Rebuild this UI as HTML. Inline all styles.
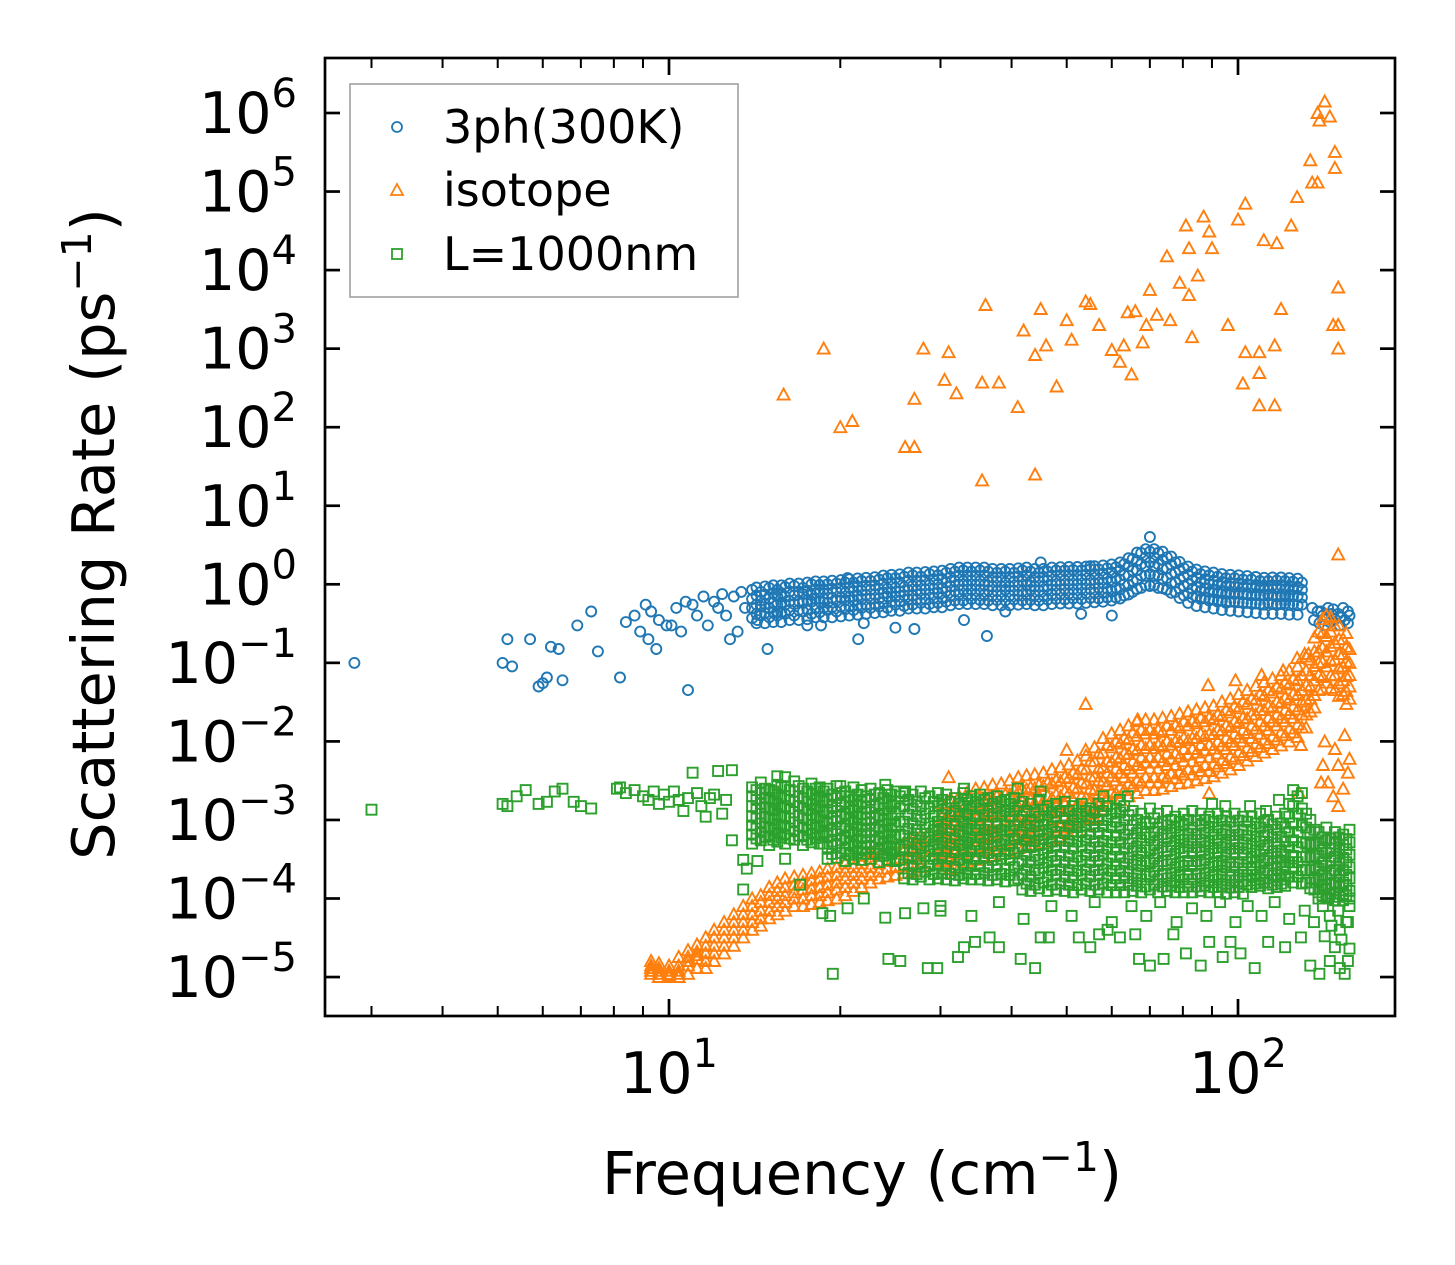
<!DOCTYPE html>
<html><head><meta charset="utf-8"><style>
html,body{margin:0;padding:0;background:#fff;}
svg{display:block;font-family:"DejaVu Sans","Liberation Sans",sans-serif;}
</style></head><body>
<svg id="chart" xmlns="http://www.w3.org/2000/svg" width="1455" height="1265" viewBox="0 0 1455 1265">
<rect x="0" y="0" width="1455" height="1265" fill="#fff"/>
<defs><clipPath id="plotclip"><rect x="325" y="58" width="1070" height="958"/></clipPath></defs>
<g id="marks" clip-path="url(#plotclip)"></g>
<g id="axes"></g>
<g id="legend">
<rect x="350" y="84" width="388" height="213" fill="#fff" fill-opacity="0.85" stroke="#a0a0a0" stroke-width="1.6"/>
<circle cx="397" cy="127" r="5" fill="none" stroke="#1f77b4" stroke-width="1.8"/>
<text x="443" y="143" font-size="46">3ph(300K)</text>
<path d="M397,184 L403,195 L391,195 Z" fill="none" stroke="#ff7f0e" stroke-width="1.8"/>
<text x="443" y="206" font-size="46">isotope</text>
<rect x="392" y="249" width="10" height="10" fill="none" stroke="#2ca02c" stroke-width="1.8"/>
<text x="443" y="270" font-size="46">L=1000nm</text>
</g>
<text x="862" y="1194" font-size="59" text-anchor="middle">Frequency (cm<tspan dy="-23" font-size="41">−1</tspan><tspan dy="23">)</tspan></text>
<text transform="translate(114,534) rotate(-90)" font-size="59" text-anchor="middle">Scattering Rate (ps<tspan dy="-23" font-size="41">−1</tspan><tspan dy="23">)</tspan></text>
</svg>
<script>
// ---- blue: 3ph(300K) ----
const blueSparseF=[2.8,5.1,5.2,5.3,5.7,5.9,6.0,6.1,6.2,6.4,6.5,6.9,7.3,7.5,8.2,8.4,8.7,8.9,9.1,9.2,9.3,9.5,9.6,9.9,10.1,10.3,10.5,10.7,10.8,11.0,11.2,11.5,11.7,12.0,12.2,12.4,12.6,12.8,13.0,13.2,13.4,13.6,14.3,14.9,15.5,17.5,18.5,20.6,21.5,22,25,27,33,36.2,39,45,53,55,60,70];
const blueSparseR=[0.1,0.1,0.2,0.09,0.2,0.05,0.055,0.065,0.16,0.15,0.06,0.3,0.45,0.14,0.065,0.33,0.4,0.25,0.55,0.2,0.45,0.15,0.35,0.3,0.3,0.5,0.25,0.6,0.045,0.55,0.4,0.7,0.3,0.6,0.5,0.75,0.4,0.2,0.7,0.25,0.8,0.5,0.35,0.15,0.45,0.3,0.3,1.2,0.2,0.32,0.28,0.27,0.35,0.22,0.45,1.9,0.42,1.7,0.4,4.0];
const blueBandF=[14,14.5,15,15.5,16,16.6,17.2,17.8,18.4,19,19.7,20.4,21.1,21.8,22.6,23.4,24.2,25,25.9,26.8,27.7,28.7,29.7,30.7,31.8,32.9,34,35.2,36.4,37.7,39,40.4,41.8,43.2,44.7,46.3,47.9,49.6,51.3,53.1,55,56.9,58.9,61,63.1,65.3,67.6,70,72.4,75,77.6,80.3,83.1,86,89,92.1,95.3,98.6,102,105.6,109.3,113,117,121,125,129.5];
const blueBandR1=[0.85,0.8,0.9,0.85,0.92,0.95,0.9,1.0,0.98,1.0,1.02,1.05,1.05,1.1,1.1,1.15,1.2,1.2,1.25,1.3,1.25,1.35,1.3,1.4,1.45,1.5,1.45,1.5,1.45,1.4,1.45,1.4,1.5,1.45,1.4,1.45,1.5,1.5,1.52,1.5,1.55,1.55,1.6,1.65,1.8,2.1,2.5,2.6,2.5,2.2,1.9,1.6,1.45,1.35,1.3,1.25,1.2,1.2,1.15,1.15,1.1,1.1,1.12,1.1,1.08,1.05];
const blueBandR2=[0.65,0.62,0.66,0.7,0.7,0.72,0.75,0.73,0.78,0.76,0.8,0.78,0.82,0.83,0.85,0.87,0.88,0.9,0.92,0.95,0.97,0.98,1.0,1.05,1.1,1.1,1.12,1.1,1.08,1.1,1.05,1.08,1.1,1.07,1.1,1.12,1.1,1.12,1.13,1.15,1.13,1.15,1.18,1.2,1.3,1.5,1.8,1.9,1.8,1.6,1.4,1.25,1.12,1.05,1.0,0.98,0.95,0.93,0.92,0.9,0.9,0.88,0.88,0.87,0.86,0.85];
const blueBandR3=[0.5,0.52,0.5,0.55,0.55,0.56,0.58,0.6,0.6,0.58,0.62,0.63,0.63,0.65,0.66,0.66,0.7,0.7,0.72,0.72,0.75,0.75,0.78,0.82,0.82,0.85,0.85,0.85,0.84,0.82,0.85,0.83,0.82,0.85,0.83,0.86,0.85,0.87,0.86,0.88,0.87,0.9,0.88,0.9,1.0,1.1,1.3,1.35,1.3,1.2,1.05,0.95,0.88,0.82,0.8,0.78,0.76,0.75,0.74,0.72,0.72,0.72,0.7,0.7,0.7,0.68];
const blueBandR4=[0.37,0.4,0.38,0.4,0.42,0.4,0.45,0.42,0.44,0.47,0.45,0.48,0.47,0.5,0.5,0.52,0.5,0.55,0.53,0.55,0.58,0.56,0.58,0.6,0.62,0.62,0.65,0.63,0.62,0.63,0.62,0.64,0.62,0.63,0.62,0.64,0.65,0.64,0.66,0.65,0.67,0.66,0.68,0.68,0.72,0.8,0.9,0.95,0.9,0.85,0.8,0.72,0.68,0.65,0.62,0.6,0.58,0.6,0.58,0.57,0.56,0.58,0.56,0.57,0.56,0.55];
const blueBand2F=[14.25,14.75,15.25,15.75,16.3,16.9,17.5,18.1,18.7,19.35,20.05,20.75,21.45,22.2,23,23.8,24.6,25.45,26.35,27.25,28.2,29.2,30.2,31.25,32.35,33.45,34.6,35.8,37.05,38.35,39.7,41.1,42.5,43.95,45.5,47.1,48.75,50.45,52.2,54.05,55.95,57.9,59.95,62.05,64.2,66.45,68.8,71.2,73.7,76.3,78.95,81.7,84.55,87.5,90.55,93.7,96.95,100.3,103.8,107.45,111.15,115,119,123,127.25];
const blueBand2R1=[0.91,0.94,0.97,0.97,1.02,1.02,1.05,1.09,1.09,1.11,1.13,1.16,1.19,1.21,1.23,1.29,1.32,1.34,1.41,1.41,1.43,1.46,1.49,1.57,1.63,1.63,1.63,1.63,1.57,1.57,1.57,1.6,1.63,1.57,1.57,1.63,1.65,1.66,1.66,1.68,1.7,1.74,1.79,1.9,2.15,2.53,2.8,2.8,2.6,2.25,1.93,1.68,1.54,1.46,1.41,1.35,1.32,1.3,1.27,1.24,1.21,1.22,1.22,1.2,1.18];
const blueBand2R2=[0.72,0.74,0.77,0.77,0.81,0.81,0.83,0.86,0.86,0.88,0.9,0.91,0.94,0.96,0.97,1.02,1.04,1.06,1.11,1.11,1.13,1.16,1.17,1.24,1.29,1.29,1.29,1.29,1.24,1.24,1.24,1.26,1.29,1.24,1.24,1.29,1.31,1.31,1.31,1.33,1.35,1.37,1.42,1.5,1.7,2.0,2.2,2.2,2.05,1.78,1.52,1.33,1.22,1.16,1.11,1.07,1.04,1.03,1.0,0.98,0.96,0.97,0.97,0.95,0.93];
const blueBand2R3=[0.55,0.56,0.58,0.58,0.61,0.61,0.63,0.65,0.65,0.67,0.68,0.69,0.71,0.73,0.74,0.77,0.79,0.81,0.84,0.84,0.86,0.88,0.89,0.94,0.98,0.98,0.98,0.98,0.94,0.94,0.94,0.96,0.98,0.94,0.94,0.98,0.99,1.0,1.0,1.01,1.02,1.04,1.08,1.14,1.29,1.52,1.68,1.68,1.55,1.35,1.16,1.01,0.92,0.88,0.84,0.81,0.79,0.78,0.76,0.75,0.73,0.73,0.73,0.72,0.71];
const blueBand2R4=[0.42,0.43,0.44,0.44,0.47,0.47,0.48,0.5,0.5,0.51,0.52,0.53,0.54,0.55,0.56,0.59,0.6,0.61,0.64,0.64,0.65,0.67,0.68,0.72,0.74,0.74,0.74,0.74,0.72,0.72,0.72,0.73,0.74,0.72,0.72,0.74,0.75,0.76,0.76,0.77,0.78,0.79,0.82,0.87,0.98,1.15,1.28,1.28,1.18,1.03,0.88,0.77,0.7,0.67,0.64,0.62,0.6,0.59,0.58,0.57,0.55,0.56,0.56,0.55,0.54];
const blueBand2R5=[0.32,0.32,0.33,0.33,0.35,0.35,0.36,0.38,0.38,0.38,0.39,0.4,0.41,0.42,0.43,0.44,0.46,0.46,0.49,0.49,0.49,0.51,0.51,0.54,0.56,0.56,0.56,0.56,0.54,0.54,0.54,0.55,0.56,0.54,0.54,0.56,0.57,0.57,0.57,0.58,0.59,0.6,0.62,0.66,0.74,0.87,0.97,0.97,0.89,0.78,0.67,0.58,0.53,0.51,0.49,0.47,0.46,0.45,0.44,0.43,0.42,0.42,0.42,0.41,0.41];
const blueTailF=[135,138,141,144,147,150,153,156,157,136,139,142,145,148,151,154,156,140,146,152];
const blueTailR=[0.5,0.45,0.4,0.5,0.48,0.42,0.5,0.45,0.4,0.35,0.32,0.3,0.33,0.36,0.3,0.35,0.32,0.45,0.42,0.38];

// ---- orange: isotope ----
const orangeSparseF=[15.9,18.7,20,21,26,27,27,28,30.5,31,32,35.5,35.5,36,38,41,42,44,44,45,46,48,50,51,54,55,57,60,62,63,64,65,66,68,69,70,72,75,76,79,81,82,82,83,85,87,89,90,96,100,103,102,103,109,109,109,111,116,116,117,119,124,127,134,135,138,138,139,142,145,148,148,150,150,147,150,150,54,66.6,50,54,31,88.6,99,110,120,127,133,89,128,140,150,157,129,131,141,144,147,150,153,156,142,148,154];
const orangeSparseR=[260,1000,100,120,56,56,230,1000,400,900,270,21,370,3600,370,180,1700,25,830,3200,1100,330,2300,1300,4000,3700,2000,960,680,1100,2900,470,3000,1200,2000,5600,2700,15000,2300,6900,37000,4800,19000,1400,8500,48000,31000,19000,2000,44000,70000,360,900,900,490,190,24000,190,1100,22000,3200,37000,85000,250000,130000,130000,1000000,800000,1400000,900000,320000,200000,6000,2000,2000,1000,2.4,0.03,0.019,0.0078,0.0078,0.0035,0.052,0.06,0.07,0.08,0.115,0.13,0.0022,0.0022,0.003,0.005,0.006,0.009,0.13,0.005,0.003,0.002,0.0015,0.0025,0.004,0.01,0.008,0.012];
const orangeBandF=[9.3,9.6,10,10.4,10.8,11.2,11.6,12,12.5,13,13.5,14,14.5,15,15.5,16,16.6,17.2,17.8,18.4,19,19.7,20.4,21.1,21.8,22.6,23.4,24.2,25,25.9,26.8,27.7,28.7,29.7,30.7,31.8,32.9,34,35.2,36.4,37.7,39,40.4,41.8,43.2,44.7,46.3,47.9,49.6,51.3,53.1,55,56.9,58.9,61,63.1,65.3,67.6,70,72.4,75,77.6,80.3,83.1,86,89,92.1,95.3,98.6,102,105.6,109.3,113,117,121,125,129.5,134,138.5,143,148,153,157];
const orangeBandR1=[1.6e-5,1.5e-5,1.4e-5,1.8e-5,2.2e-5,2.6e-5,3.2e-5,4e-5,5e-5,6.3e-5,8e-5,1e-4,1.1e-4,1.4e-4,1.6e-4,1.8e-4,1.9e-4,2e-4,2.1e-4,2.2e-4,2.4e-4,2.5e-4,2.8e-4,3.2e-4,3.5e-4,4e-4,4.5e-4,4.8e-4,5e-4,5.2e-4,5.6e-4,6.3e-4,7e-4,8e-4,1.1e-3,1.3e-3,1.4e-3,1.6e-3,1.7e-3,1.8e-3,2e-3,2.1e-3,2.4e-3,2.5e-3,2.6e-3,2.8e-3,3e-3,3.2e-3,3.5e-3,4e-3,4.5e-3,5.6e-3,7e-3,9e-3,1e-2,1.1e-2,1.3e-2,1.4e-2,1.4e-2,1.4e-2,1.6e-2,1.6e-2,1.8e-2,1.8e-2,2e-2,2e-2,2.2e-2,2.5e-2,2.8e-2,3.2e-2,3.5e-2,4e-2,4.5e-2,5e-2,5.6e-2,6.3e-2,7e-2,1.1e-1,2.5e-1,4e-1,3e-1,2e-1,1.5e-1];
const orangeBandR2=[1.3e-5,1.2e-5,1.2e-5,1.4e-5,1.8e-5,2.1e-5,2.5e-5,3.2e-5,4e-5,5e-5,6.3e-5,8e-5,9e-5,1.1e-4,1.25e-4,1.4e-4,1.5e-4,1.6e-4,1.7e-4,1.8e-4,1.9e-4,2e-4,2.2e-4,2.5e-4,2.8e-4,3.2e-4,3.5e-4,3.8e-4,4e-4,4.2e-4,4.5e-4,5e-4,5.6e-4,6.3e-4,8e-4,9e-4,1e-3,1.1e-3,1.2e-3,1.25e-3,1.3e-3,1.4e-3,1.6e-3,1.7e-3,1.8e-3,1.9e-3,2e-3,2.1e-3,2.3e-3,2.6e-3,3e-3,3.6e-3,4.5e-3,5.6e-3,6.3e-3,7e-3,8e-3,9e-3,9e-3,9e-3,1e-2,1e-2,1.1e-2,1.1e-2,1.25e-2,1.25e-2,1.4e-2,1.6e-2,1.8e-2,2e-2,2.2e-2,2.5e-2,2.8e-2,3.2e-2,3.6e-2,4e-2,4.5e-2,7e-2,1.4e-1,2.2e-1,1.8e-1,1.3e-1,1e-1];
const orangeBandR3=[1.1e-5,1.0e-5,1.0e-5,1.1e-5,1.4e-5,1.7e-5,2.0e-5,2.5e-5,3.2e-5,4e-5,5e-5,6.3e-5,7e-5,9e-5,1e-4,1.1e-4,1.2e-4,1.3e-4,1.35e-4,1.4e-4,1.5e-4,1.6e-4,1.8e-4,2e-4,2.2e-4,2.5e-4,2.8e-4,3e-4,3.2e-4,3.3e-4,3.5e-4,4e-4,4.5e-4,5e-4,6e-4,6.5e-4,7e-4,8e-4,8.5e-4,9e-4,9.5e-4,1e-3,1.1e-3,1.2e-3,1.25e-3,1.3e-3,1.4e-3,1.5e-3,1.6e-3,1.8e-3,2e-3,2.5e-3,3.2e-3,4e-3,4.5e-3,5e-3,5.6e-3,6.3e-3,6.3e-3,6.3e-3,7e-3,7e-3,8e-3,8e-3,9e-3,9e-3,1e-2,1.1e-2,1.25e-2,1.4e-2,1.6e-2,1.8e-2,2e-2,2.2e-2,2.5e-2,2.8e-2,3.2e-2,5e-2,1e-1,1.4e-1,1.1e-1,9e-2,7e-2];
const orangeBandR4=[1.2e-5,1.1e-5,1.05e-5,1.0e-5,1.1e-5,1.3e-5,1.6e-5,2e-5,2.5e-5,3.2e-5,4e-5,5e-5,5.6e-5,7e-5,8e-5,9e-5,1e-4,1e-4,1.1e-4,1.1e-4,1.2e-4,1.3e-4,1.4e-4,1.6e-4,1.8e-4,2e-4,2.2e-4,2.4e-4,2.5e-4,2.6e-4,2.8e-4,3.2e-4,3.5e-4,4e-4,4.5e-4,5e-4,5.5e-4,6e-4,6.3e-4,6.5e-4,7e-4,7.5e-4,8e-4,8.5e-4,9e-4,9.5e-4,1e-3,1.05e-3,1.1e-3,1.2e-3,1.4e-3,1.7e-3,2.2e-3,2.8e-3,3.2e-3,3.5e-3,4e-3,4.5e-3,4.5e-3,4.5e-3,5e-3,5e-3,5.6e-3,5.6e-3,6.3e-3,6.3e-3,7e-3,8e-3,9e-3,1e-2,1.1e-2,1.25e-2,1.4e-2,1.6e-2,1.8e-2,2e-2,2.2e-2,3.5e-2,7e-2,9e-2,7e-2,6e-2,5e-2];
const orangeBandR5=[1.4e-5,1.3e-5,1.1e-5,1.2e-5,1.6e-5,1.9e-5,1.3e-5,1.6e-5,2e-5,2.5e-5,3.2e-5,4e-5,4.5e-5,5.6e-5,6.3e-5,7e-5,8e-5,8e-5,8.5e-5,9e-5,9.5e-5,1e-4,1.1e-4,1.25e-4,1.4e-4,1.6e-4,1.8e-4,1.9e-4,2e-4,2.1e-4,2.2e-4,2.5e-4,2.8e-4,3.2e-4,3.5e-4,3.8e-4,4e-4,4.5e-4,4.7e-4,5e-4,5.2e-4,5.5e-4,6e-4,6.3e-4,6.5e-4,7e-4,7.5e-4,8e-4,8e-4,9e-4,1e-3,1.2e-3,1.5e-3,1.9e-3,2.2e-3,2.4e-3,2.7e-3,3e-3,3e-3,3e-3,3.4e-3,3.4e-3,3.8e-3,3.8e-3,4.2e-3,4.2e-3,4.8e-3,5.3e-3,6e-3,6.7e-3,7.5e-3,8.5e-3,9.5e-3,1.05e-2,1.2e-2,1.3e-2,1.5e-2,2.4e-2,4.5e-2,5.6e-2,4.5e-2,4e-2,3.5e-2];
const orangeBand2F=[30.2,31.25,32.35,33.45,34.6,35.8,37.05,38.35,39.7,41.1,42.5,43.95,45.5,47.1,48.75,50.45,52.2,54.05,55.95,57.9,59.95,62.05,64.2,66.45,68.8,71.2,73.7,76.3,78.95,81.7,84.55,87.5,90.55,93.7,96.95,100.3,103.8,107.45,111.15,115,119,123,127.25,131.75,136.25,140.75,145.5,150.5,155];
const orangeBand2R1=[1.65e-3,1.86e-3,2e-3,2.25e-3,2.5e-3,2.6e-3,2.8e-3,2.9e-3,3.2e-3,3.5e-3,3.7e-3,3.8e-3,4e-3,4.4e-3,4.7e-3,5.1e-3,5.7e-3,6.6e-3,8.4e-3,1.1e-2,1.26e-2,1.4e-2,1.6e-2,1.8e-2,1.9e-2,1.9e-2,2e-2,2.1e-2,2.25e-2,2.4e-2,2.55e-2,2.7e-2,2.85e-2,3.2e-2,3.5e-2,4e-2,4.5e-2,5.1e-2,5.7e-2,6.3e-2,7e-2,8e-2,9e-2,1.2e-1,2.1e-1,3.6e-1,3.8e-1,3e-1,2.4e-1];
const orangeBand2R2=[1.1e-3,1.24e-3,1.34e-3,1.5e-3,1.64e-3,1.74e-3,1.84e-3,1.94e-3,2.1e-3,2.3e-3,2.44e-3,2.54e-3,2.7e-3,2.9e-3,3.1e-3,3.4e-3,3.8e-3,4.4e-3,5.6e-3,7.2e-3,8.4e-3,9.4e-3,1.06e-2,1.18e-2,1.26e-2,1.26e-2,1.32e-2,1.4e-2,1.5e-2,1.6e-2,1.7e-2,1.8e-2,1.9e-2,2.1e-2,2.34e-2,2.64e-2,3e-2,3.4e-2,3.8e-2,4.2e-2,4.7e-2,5.3e-2,6e-2,8e-2,1.4e-1,2.4e-1,2.5e-1,2e-1,1.6e-1];
const orangeBand2R3=[7.2e-4,8.1e-4,8.7e-4,9.8e-4,1.07e-3,1.13e-3,1.2e-3,1.26e-3,1.37e-3,1.5e-3,1.59e-3,1.65e-3,1.76e-3,1.89e-3,2e-3,2.2e-3,2.5e-3,2.9e-3,3.6e-3,4.7e-3,5.5e-3,6.1e-3,6.9e-3,7.7e-3,8.2e-3,8.2e-3,8.6e-3,9.1e-3,9.8e-3,1.04e-2,1.1e-2,1.17e-2,1.24e-2,1.37e-2,1.52e-2,1.72e-2,1.95e-2,2.2e-2,2.5e-2,2.7e-2,3.1e-2,3.4e-2,3.9e-2,5.2e-2,9.1e-2,1.56e-1,1.63e-1,1.3e-1,1.04e-1];
const orangeBand2R4=[4.7e-4,5.3e-4,5.7e-4,6.4e-4,7e-4,7.4e-4,7.8e-4,8.2e-4,8.9e-4,9.8e-4,1.04e-3,1.08e-3,1.15e-3,1.23e-3,1.32e-3,1.45e-3,1.6e-3,1.9e-3,2.4e-3,3.1e-3,3.6e-3,4e-3,4.5e-3,5e-3,5.4e-3,5.4e-3,5.6e-3,6e-3,6.4e-3,6.8e-3,7.2e-3,7.7e-3,8.1e-3,8.9e-3,9.9e-3,1.12e-2,1.28e-2,1.45e-2,1.6e-2,1.8e-2,2e-2,2.25e-2,2.55e-2,3.4e-2,6e-2,1.02e-1,1.06e-1,8.5e-2,6.8e-2];
const orangeBand2R5=[3e-4,3.4e-4,3.7e-4,4.1e-4,4.5e-4,4.8e-4,5.1e-4,5.3e-4,5.8e-4,6.3e-4,6.7e-4,7e-4,7.4e-4,8e-4,8.5e-4,9.4e-4,1.05e-3,1.2e-3,1.54e-3,2e-3,2.3e-3,2.6e-3,2.9e-3,3.2e-3,3.5e-3,3.5e-3,3.6e-3,3.9e-3,4.1e-3,4.4e-3,4.7e-3,5e-3,5.2e-3,5.8e-3,6.4e-3,7.3e-3,8.3e-3,9.4e-3,1.05e-2,1.16e-2,1.3e-2,1.46e-2,1.65e-2,2.2e-2,3.9e-2,6.6e-2,6.9e-2,5.5e-2,4.4e-2];
const orangeBand2R6=[2.1e-4,2.4e-4,2.5e-4,2.9e-4,3.1e-4,3.3e-4,3.5e-4,3.7e-4,4e-4,4.4e-4,4.6e-4,4.8e-4,5.1e-4,5.5e-4,5.9e-4,6.5e-4,7.2e-4,8.4e-4,1.06e-3,1.37e-3,1.6e-3,1.8e-3,2e-3,2.2e-3,2.4e-3,2.4e-3,2.5e-3,2.7e-3,2.9e-3,3e-3,3.2e-3,3.4e-3,3.6e-3,4e-3,4.4e-3,5e-3,5.7e-3,6.5e-3,7.2e-3,8e-3,8.9e-3,1e-2,1.14e-2,1.5e-2,2.7e-2,4.6e-2,4.8e-2,3.8e-2,3e-2];

// ---- green: L=1000nm (values in units of 1e-4 ps^-1) ----
const greenUnit=1e-4;
const greenSparseF=[3.0,5.1,5.2,5.4,5.6,5.9,6.1,6.3,6.5,6.8,7.0,7.3,8.1,8.2,8.4,8.7,9.0,9.2,9.4,9.6,9.8,10.0,10.2,10.4,10.6,10.8,11.0,11.2,11.4,11.6,11.8,12.0,12.2,12.4,12.6,12.9,12.9,13.5,13.7,14.3,13.5,17,16,15.5,19.4,25.5,29.6,24,26,28,30,18.6,19.2,20.6,22,16,20,24,26,33,41,45,58,62,64,90,95,105,118,112];
const greenSparseR=[13.5,16,15,20,24,16,17,23,25,17,15,14,25,26,22,24,20,18,23,16,21,17,23,18,13,19,40,22,15,11,19,21,42,12,18,43,5.5,3.1,2.4,3,1.3,1.5,3.2,36,0.11,0.16,0.13,0.57,0.65,0.75,0.8,0.65,0.6,0.75,1.0,35,27,28,23,25,25,23,20,18,20,16,15,15,18,13];
const greenLowF=[24.3,28.5,32.2,33,34.5,36.6,38,41.5,44,45,46.5,52.5,55,57,59,62,66,67,70,74,77,81,86,89,94,97,101,107,113,121,129,134,139,145,151,154,156,157,148,142,151,156,145,30,34,38,42,47,51,56,60,65,69,73,78,83,88,93,99,104,110,116,123,131,136,141,146,150,155,157,152,144];
const greenLowR=[0.17,0.13,0.18,0.24,0.28,0.32,0.24,0.17,0.13,0.32,0.32,0.32,0.24,0.35,0.4,0.32,0.35,0.17,0.14,0.17,0.35,0.2,0.14,0.28,0.18,0.28,0.2,0.13,0.28,0.24,0.32,0.14,0.11,0.16,0.13,0.11,0.16,0.23,0.24,0.33,0.4,0.5,0.6,0.7,0.6,0.9,0.55,0.8,0.6,0.9,0.5,0.8,0.6,0.9,0.5,0.75,0.6,0.9,0.5,0.8,0.6,0.9,0.55,0.7,0.5,0.8,0.45,0.7,0.5,0.8,0.3,1.0];
const greenBandF=[14,14.5,15,15.5,16,16.6,17.2,17.8,18.4,19,19.7,20.4,21.1,21.8,22.6,23.4,24.2,25,25.9,26.8,27.7,28.7,29.7,30.7,31.8,32.9,34,35.2,36.4,37.7,39,40.4,41.8,43.2,44.7,46.3,47.9,49.6,51.3,53.1,55,56.9,58.9,61,63.1,65.3,67.6,70,72.4,75,77.6,80.3,83.1,86,89,92.1,95.3,98.6,102,105.6,109.3,113,117,121,125,129.5,134,138.5,143,148,153,157];
const greenBandR1=[26,30,24,28,27,31,25,29,26,25,27,23,26,24,25,22,24,23,22,21,23,20,22,21,19,22,20,21,19,20,18,19,17,16,18,15,16,17,15,16,14,16,15,14,15,13,12,14,12,13,11,12,13,12,11,12,11,12,11,11,12,10,11,12,24,22,10,7,8,7,6.5,7.5];
const greenBandR2=[20,22,19,21,20,23,19,21,20,18,19,17,18,17,18,16,17,17,15,14,15,14,15,14,13,15,14,14,13,14,13,13,11,10,11,10,11,10.5,10,11,10,10,10,9.5,10,8.5,8,9,8,8.5,8,8.5,8,8.5,8,8,7.5,8,7.5,7.5,8,7,7.5,8,15,14,7,5,5.5,5,4.8,5.2];
const greenBandR3=[15,16,14,16,15,17,14,16,15,12.5,13,12,13,12,12.5,11.5,12,12,9.5,9,10,9,9.5,9,8.8,9.5,9,9,8.5,9,8.5,8.5,7,6.8,7.2,6.6,7,6.8,6.5,7,6.6,6.8,6.5,6.3,6.5,5.8,5.5,6,5.5,5.8,5.4,5.6,5.5,5.6,5.4,5.5,5.2,5.4,5.2,5,5.3,4.8,5,5.3,9,8.5,4.8,3.5,3.8,3.4,3.3,3.6];
const greenBandR4=[11,12,10.5,11.5,11,12.5,10.5,11.5,11,9,9.5,8.5,9.2,8.8,9,8.3,8.8,8.6,6.3,6,6.6,6,6.3,6,5.8,6.3,6,6,5.7,6,5.6,5.7,4.6,4.5,4.8,4.4,4.6,4.5,4.3,4.6,4.4,4.5,4.3,4.2,4.3,4,3.8,4.1,3.8,4,3.7,3.9,3.8,3.9,3.7,3.8,3.6,3.7,3.6,3.4,3.6,3.3,3.4,3.6,5.5,5.2,3.3,2.4,2.6,2.3,2.3,2.5];
const greenBandR5=[8.5,9,8,8.8,8.4,9.3,8,8.7,8.3,6.3,6.6,6,6.5,6.2,6.3,5.9,6.2,6.1,4.2,4,4.4,4,4.2,4,3.9,4.2,4,4,3.8,4,3.7,3.8,3,2.9,3.1,2.9,3,2.9,2.8,3,2.9,3,2.8,2.7,2.8,2.7,2.6,2.8,2.6,2.7,2.5,2.6,2.6,2.7,2.5,2.6,2.5,2.5,2.4,2.4,2.5,2.3,2.4,2.5,3.5,3.4,2.3,1.7,1.8,1.6,1.6,1.8];
const greenBandR6=[6.5,7,6.2,6.8,6.5,7.2,6.2,6.7,6.4,4.5,4.7,4.3,4.6,4.4,4.5,4.2,4.4,4.3,2.7,2.6,2.8,2.6,2.7,2.6,2.5,2.7,2.6,2.6,2.5,2.6,2.4,2.5,2,1.9,2.1,1.9,2,1.9,1.85,2,1.9,2,1.85,1.8,1.85,1.8,1.75,1.9,1.75,1.8,1.7,1.75,1.75,1.8,1.7,1.75,1.7,1.7,1.65,1.7,1.75,1.6,1.7,1.75,2.4,2.3,1.6,1.2,1.3,1.15,1.15,1.25];
const greenBandR7=[5,5.5,4.8,5.3,5,5.6,4.8,5.2,5,3.2,3.3,3,3.2,3.1,3.2,2.9,3.1,3,1.8,1.75,1.9,1.75,1.8,1.75,1.7,1.8,1.75,1.75,1.7,1.75,1.65,1.7,1.3,1.25,1.35,1.25,1.3,1.25,1.2,1.3,1.25,1.3,1.2,1.2,1.2,1.25,1.2,1.3,1.2,1.25,1.2,1.2,1.2,1.25,1.2,1.2,1.15,1.2,1.15,1.4,1.45,1.35,1.4,1.45,1.6,1.55,1.35,1.0,1.05,0.95,0.95,1.0];
const greenBand2F=[14.25,14.75,15.25,15.75,16.3,16.9,17.5,18.1,18.7,19.35,20.05,20.75,21.45,22.2,23,23.8,24.6,25.45,26.35,27.25,28.2,29.2,30.2,31.25,32.35,33.45,34.6,35.8,37.05,38.35,39.7,41.1,42.5,43.95,45.5,47.1,48.75,50.45,52.2,54.05,55.95,57.9,59.95,62.05,64.2,66.45,68.8,71.2,73.7,76.3,78.95,81.7,84.55,87.5,90.55,93.7,96.95,100.3,103.8,107.45,111.15,115,119,123,127.25,131.75,136.25,140.75,145.5,150.5,155];
const greenBand2R1=[24,25,23,26,24,27,23,25,23,21,22,20,21,20,21,19,21,20,18,17,19,17,18,17,16,18,17,18,16,17,16,15,13,12.5,13.5,12.5,13,13,12,13,12.5,13,12,12.5,11.5,10,9.5,10.5,9.5,10,9.5,10,9.8,10,9.5,9.8,9.5,9.8,9.5,9,9.5,8.8,9,16,20,12,7.5,6,5.8,6,5.7];
const greenBand2R2=[18,19,17,19,18,20,17,18,17,15,15.5,14.5,15,14.5,15,14,15,14,11.7,11.2,12,11.2,11.7,11.2,11,11.7,11.2,11.5,11,11.3,11,10,8.5,8.3,8.7,8.2,8.5,8.4,8.1,8.5,8.2,8.4,8.1,8,7.5,6.8,6.6,7,6.6,6.8,6.5,6.7,6.6,6.8,6.5,6.6,6.4,6.5,6.3,6.1,6.3,6,6.1,11,12,8,5,4.2,4.3,4.1,4.2];
const greenBand2R3=[14,14.5,13.5,14.5,14,15,13.5,14,13,10.6,11,10.3,10.8,10.4,10.6,10,10.5,9.5,7.7,7.4,8,7.4,7.7,7.4,7.2,7.7,7.4,7.5,7.1,7.4,7.1,6.5,5.5,5.4,5.7,5.3,5.5,5.4,5.3,5.5,5.3,5.4,5.2,5.2,5,4.6,4.5,4.8,4.5,4.6,4.4,4.6,4.5,4.6,4.4,4.5,4.3,4.4,4.3,4.1,4.3,4,4.1,7,7,5,3.5,2.9,3,2.8,2.9];
const greenBand2R4=[10.4,11,10,10.8,10.4,11.5,10,10.6,9.8,7.5,7.8,7.2,7.6,7.4,7.5,7.1,7.4,6.5,5.1,4.9,5.3,4.9,5.1,4.9,4.8,5.1,4.9,5,4.7,4.9,4.7,4.3,3.6,3.5,3.7,3.5,3.6,3.5,3.4,3.6,3.5,3.6,3.4,3.4,3.3,3.1,3,3.2,3,3.1,2.9,3,3,3.1,2.9,3,2.9,2.9,2.9,2.9,3,2.8,2.9,4.5,4.5,3.4,2.5,2,2.1,1.95,2];
const greenBand2R5=[7.8,8.2,7.5,8,7.8,8.5,7.5,7.9,7,5.3,5.5,5.1,5.4,5.2,5.3,5,5.2,4.5,3.3,3.2,3.5,3.2,3.3,3.2,3.1,3.3,3.2,3.3,3.1,3.2,3.1,2.8,2.35,2.3,2.45,2.3,2.35,2.3,2.25,2.35,2.3,2.35,2.25,2.25,2.2,2.1,2.05,2.2,2.05,2.1,2,2.05,2.05,2.1,2,2.05,2,2,2,2,2.1,1.95,2,2.9,2.9,2.3,1.8,1.45,1.5,1.4,1.45];
const greenBand2R6=[5.8,6.1,5.6,6,5.8,6.3,5.6,5.9,5,3.7,3.8,3.6,3.8,3.7,3.7,3.5,3.7,3.1,2.1,2.05,2.2,2.05,2.1,2.05,2,2.1,2.05,2.1,2,2.05,2,1.8,1.55,1.5,1.6,1.5,1.55,1.5,1.48,1.55,1.5,1.55,1.48,1.48,1.5,1.45,1.42,1.5,1.42,1.45,1.4,1.42,1.42,1.45,1.4,1.42,1.38,1.4,1.5,1.55,1.6,1.5,1.55,1.9,1.9,1.6,1.3,1.1,1.15,1.05,1.1];

// ---- axis ticks ----
const yTickExps=[-5,-4,-3,-2,-1,0,1,2,3,4,5,6];
const xTickExps=[1,2];
const xMinorTicks=[3,4,5,6,7,8,9,20,30,40,50,60,70,80,90,101,102,103,104,105,106,107,108,109];

const NS='http://www.w3.org/2000/svg';
const X0=325,X1=1395,Y0=58,Y1=1016;
function xs(f){return 669+569*(Math.log10(f)-1);}
function ys(r){return 113+78.55*(6-Math.log10(r));}
const marks=document.getElementById('marks');
const axes=document.getElementById('axes');
function mk(tag,attrs,parent){const e=document.createElementNS(NS,tag);for(const k in attrs)e.setAttribute(k,attrs[k]);parent.appendChild(e);return e;}

function circle(f,r,g){const e=mk('circle',{cx:xs(f).toFixed(1),cy:ys(r).toFixed(1),r:5,fill:'none',stroke:'#1f77b4','stroke-width':1.9},g);

}
function tri(f,r,g){const x=xs(f),y=ys(r);const e=mk('path',{d:`M${x.toFixed(1)},${(y-6).toFixed(1)}L${(x+6).toFixed(1)},${(y+5).toFixed(1)}L${(x-6).toFixed(1)},${(y+5).toFixed(1)}Z`,fill:'none',stroke:'#ff7f0e','stroke-width':1.9},g);

}
function sq(f,r,g){const e=mk('rect',{x:(xs(f)-5).toFixed(1),y:(ys(r)-5).toFixed(1),width:10,height:10,fill:'none',stroke:'#2ca02c','stroke-width':1.9},g);

}

const gB=mk('g',{},marks);


blueSparseF.forEach((f,i)=>circle(f,blueSparseR[i],gB));
[blueBandR1,blueBandR2,blueBandR3,blueBandR4].forEach(row=>blueBandF.forEach((f,i)=>circle(f,row[i],gB)));
[blueBand2R1,blueBand2R2,blueBand2R3,blueBand2R4,blueBand2R5].forEach(row=>blueBand2F.forEach((f,i)=>circle(f,row[i],gB)));
blueTailF.forEach((f,i)=>circle(f,blueTailR[i],gB));

const gO=mk('g',{},marks);


[orangeBandR1,orangeBandR2,orangeBandR3,orangeBandR4,orangeBandR5].forEach(row=>orangeBandF.forEach((f,i)=>tri(f,row[i],gO)));
[orangeBand2R1,orangeBand2R2,orangeBand2R3,orangeBand2R4,orangeBand2R5,orangeBand2R6].forEach(row=>orangeBand2F.forEach((f,i)=>tri(f,row[i],gO)));
orangeSparseF.forEach((f,i)=>tri(f,orangeSparseR[i],gO));

const gG=mk('g',{},marks);


greenSparseF.forEach((f,i)=>sq(f,greenSparseR[i]*greenUnit,gG));
greenLowF.forEach((f,i)=>sq(f,greenLowR[i]*greenUnit,gG));
[greenBandR1,greenBandR2,greenBandR3,greenBandR4,greenBandR5,greenBandR6,greenBandR7].forEach(row=>greenBandF.forEach((f,i)=>sq(f,row[i]*greenUnit,gG)));
[greenBand2R1,greenBand2R2,greenBand2R3,greenBand2R4,greenBand2R5,greenBand2R6].forEach(row=>greenBand2F.forEach((f,i)=>sq(f,row[i]*greenUnit,gG)));

// frame
const fr=mk('rect',{x:X0,y:Y0,width:X1-X0,height:Y1-Y0,fill:'none',stroke:'#000','stroke-width':2.7},axes);


yTickExps.forEach(e=>{const y=ys(Math.pow(10,e));
 const t1=mk('line',{x1:X0,x2:X0+15,y1:y,y2:y,stroke:'#000','stroke-width':2.7},axes);
 
 
 const t2=mk('line',{x1:X1,x2:X1-15,y1:y,y2:y,stroke:'#000','stroke-width':2.7},axes);
 
 
 const tx=mk('text',{x:X0-28,y:y+20,'font-size':57,'text-anchor':'end'},axes);
 
 
 const exp=(e<0?'\u2212':'')+Math.abs(e);
 tx.innerHTML='10<tspan dy="-26" font-size="40">'+exp+'</tspan>';
});
xTickExps.forEach(e=>{const x=xs(Math.pow(10,e));
 const t1=mk('line',{x1:x,x2:x,y1:Y1,y2:Y1-17,stroke:'#000','stroke-width':2.7},axes);
 
 
 const t2=mk('line',{x1:x,x2:x,y1:Y0,y2:Y0+17,stroke:'#000','stroke-width':2.7},axes);
 
 
 const tx=mk('text',{x:x,y:1093,'font-size':57,'text-anchor':'middle'},axes);
 
 
 tx.innerHTML='10<tspan dy="-26" font-size="40">'+e+'</tspan>';
});
xMinorTicks.forEach(v=>{const f=v>100?(v-100)*100:v;const x=xs(f);if(x<X0||x>X1)return;
 const t1=mk('line',{x1:x,x2:x,y1:Y1,y2:Y1-10,stroke:'#000','stroke-width':2},axes);
 
 
 const t2=mk('line',{x1:x,x2:x,y1:Y0,y2:Y0+10,stroke:'#000','stroke-width':2},axes);
 
 
});
</script>
</body></html>
